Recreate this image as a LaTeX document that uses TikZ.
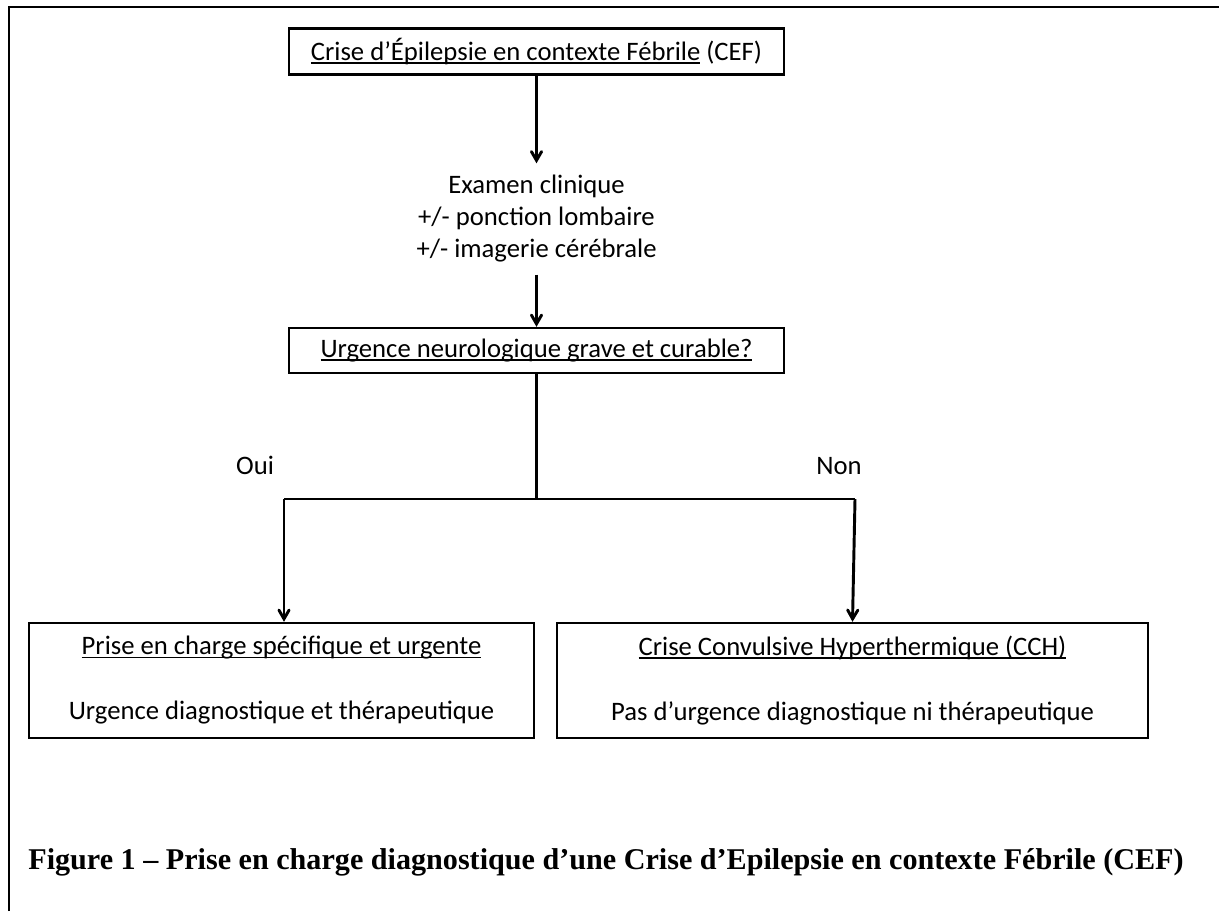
\documentclass[tikz,border=0pt]{standalone}
\usepackage{fontspec}
\setmainfont{Carlito}
\newfontfamily\legendefont{Liberation Serif}
\usetikzlibrary{arrows,positioning}

% underline close to the baseline, as in a word processor
\newcommand{\souligne}[1]{\setbox0\hbox{#1}\rlap{\rule[-2.4pt]{\wd0}{1.2pt}}\box0}

\begin{document}
\begin{tikzpicture}[->, >=angle 60, x=0.75pt, y=-0.75pt, line width=2.2pt]
  \tikzstyle{every node}=[font=\fontsize{20}{24}\selectfont, text=black]
  \tikzstyle{boite}=[draw=black, line width=1.8pt, align=center]

  \useasboundingbox (0,0) rectangle (1219,911);
  \draw[-, line width=2pt] (9,911) -- (9,7) -- (1219,7);

  \node[boite, minimum width=371.25pt, minimum height=34.5pt] (cef) at (536.5,51.5)
    {\souligne{Crise d’Épilepsie en contexte Fébrile}\ (CEF)};
  \node[align=center, inner xsep=4pt, inner ysep=8pt] (exam) at (536.5,219)
    {Examen clinique\\+/- ponction lombaire\\+/- imagerie cérébrale};
  \node[boite, minimum width=371.25pt, minimum height=33.75pt] (urg) at (536.5,350.5)
    {\souligne{Urgence neurologique grave et curable?}};

  \node (oui) at (255,465) {Oui};
  \node (non) at (839,466) {Non};
  \coordinate (split) at (536.5,499);
  \coordinate (gauche) at (284,499);
  \coordinate (droite) at (855,499);

  \node[boite, minimum width=378.75pt, minimum height=86.25pt] (pcs) at (281.5,680.5)
    {\souligne{Prise en charge spécifique et urgente}\\[24.75pt]Urgence diagnostique et thérapeutique};
  \node[boite, minimum width=443.25pt, minimum height=86.25pt] (cch) at (852.5,680.5)
    {\souligne{Crise Convulsive Hyperthermique (CCH)}\\[24.75pt]Pas d’urgence diagnostique ni thérapeutique};

  \node (legende) at (606,862)
    {\legendefont\bfseries\fontsize{22.6}{27}\selectfont Figure 1 – Prise en charge diagnostique d’une Crise d’Epilepsie en contexte Fébrile (CEF)};

  \draw (cef.south -| exam.north) -- (exam.north);
  \draw (exam.south) -- (urg.north);
  \draw[-] (urg.south) -- (split);
  \draw[-] (gauche) -- (droite);
  \draw (gauche) -- (gauche |- pcs.north);
  \draw (droite) -- (cch.north);
\end{tikzpicture}
\end{document}
